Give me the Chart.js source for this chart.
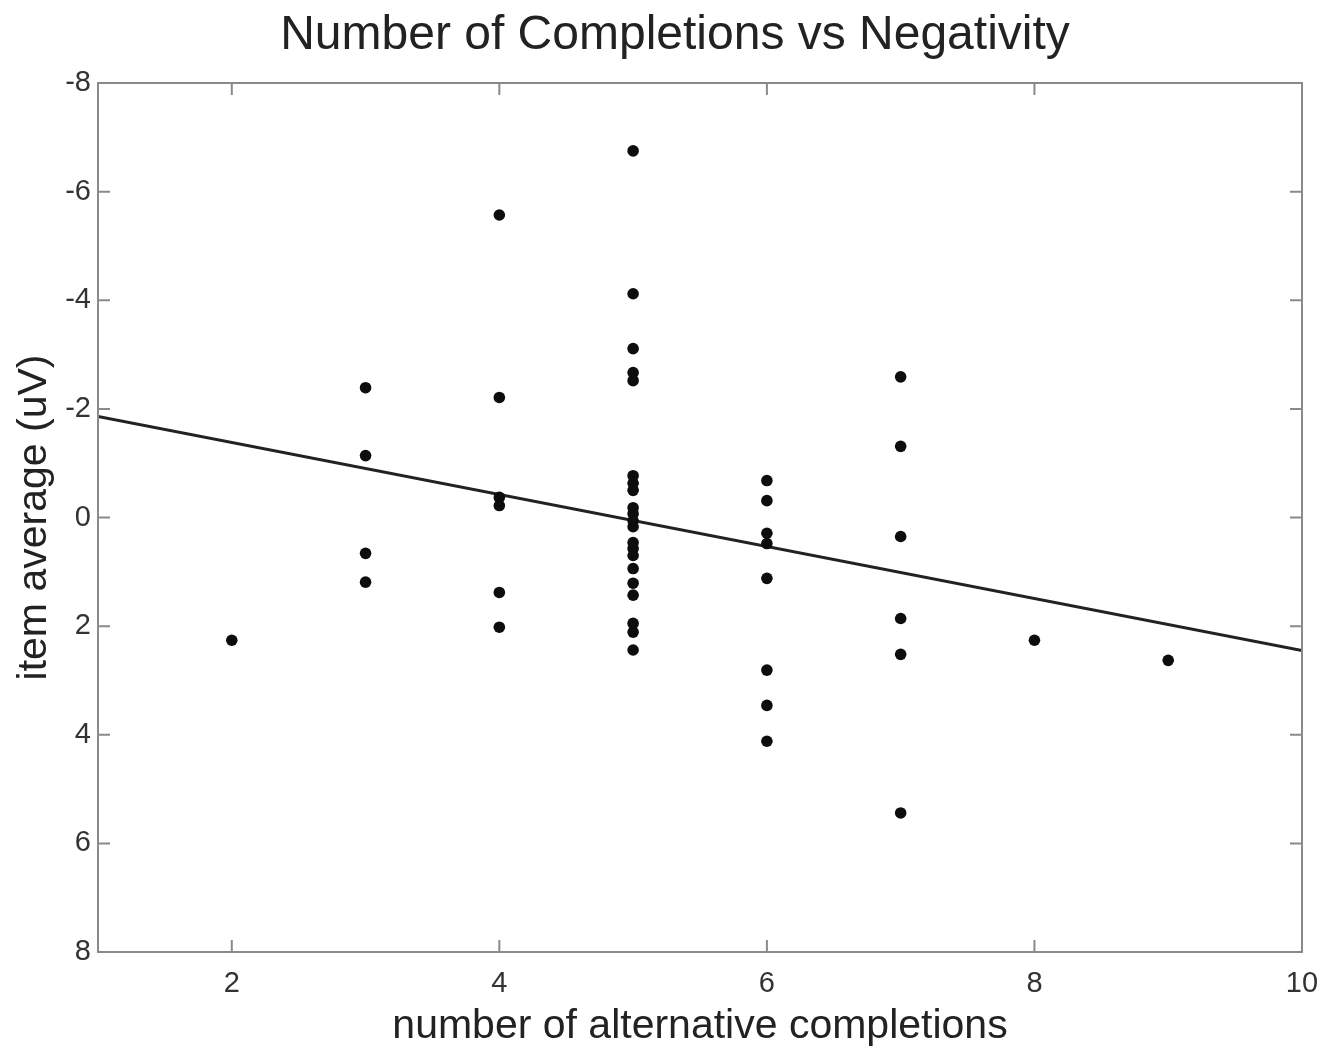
<!DOCTYPE html>
<html>
<head>
<meta charset="utf-8">
<script src="https://cdn.jsdelivr.net/npm/chart.js@4"></script>
<style>
  html, body { margin: 0; padding: 0; background: #fff; }
  #wrap { width: 1337px; height: 1051px; }
</style>
</head>
<body>
<div id="wrap"><canvas id="chart" width="1337" height="1051"></canvas></div>
<script>
// completions per item (x) and item average in uV (y)
const xVals = [
  2,
  3, 3, 3, 3,
  4, 4, 4, 4, 4, 4,
  5, 5, 5, 5, 5, 5, 5, 5, 5, 5, 5, 5, 5, 5, 5, 5, 5, 5, 5, 5, 5,
  6, 6, 6, 6, 6, 6, 6, 6,
  7, 7, 7, 7, 7, 7,
  8,
  9
];
const yVals = [
  2.26,
  -2.39, -1.14, 0.66, 1.19,
  -5.57, -2.21, -0.37, -0.22, 1.38, 2.02,
  -6.75, -4.12, -3.11, -2.67, -2.52, -0.77, -0.63, -0.50, -0.18, -0.07, 0.06, 0.17, 0.46, 0.57, 0.70, 0.94, 1.21, 1.43, 1.95, 2.11, 2.44,
  -0.68, -0.31, 0.29, 0.48, 1.12, 2.81, 3.46, 4.12,
  -2.59, -1.31, 0.35, 1.86, 2.52, 5.44,
  2.26,
  2.63
];

// fitted regression line (end points)
const fitX = [1, 10];
const fitY = [-1.86, 2.45];

const xTicks = [2, 4, 6, 8, 10];
const yTicks = [-8, -6, -4, -2, 0, 2, 4, 6, 8];

const titleText = 'Number of Completions vs Negativity';

const FONT = "'Liberation Sans', Arial, Helvetica, sans-serif";

// matlab style box with inward ticks, plus the title a bit right of centre
const boxPlugin = {
    id: 'boxPlugin',
    afterDraw(chart) {
        const ctx = chart.ctx;
        const a = chart.chartArea;
        const xs = chart.scales.x;
        const ys = chart.scales.y;
        const len = 12;
        ctx.save();
        ctx.strokeStyle = '#8a8a8a';
        ctx.lineWidth = 2;
        ctx.strokeRect(a.left, a.top, a.right - a.left, a.bottom - a.top);
        ctx.beginPath();
        xTicks.forEach(v => {
            const px = xs.getPixelForValue(v);
            ctx.moveTo(px, a.bottom); ctx.lineTo(px, a.bottom - len);
            ctx.moveTo(px, a.top); ctx.lineTo(px, a.top + len);
        });
        yTicks.forEach(v => {
            const py = ys.getPixelForValue(v);
            ctx.moveTo(a.left, py); ctx.lineTo(a.left + len, py);
            ctx.moveTo(a.right, py); ctx.lineTo(a.right - len, py);
        });
        ctx.stroke();

        ctx.fillStyle = '#222';
        ctx.font = '48px ' + FONT;
        ctx.textAlign = 'center';
        ctx.textBaseline = 'middle';
        ctx.fillText(titleText, 675, 36);
        ctx.restore();
    }
};

const points = xVals.map((x, i) => ({ x: x, y: yVals[i] }));
const fitLine = fitX.map((x, i) => ({ x: x, y: fitY[i] }));

const ctx = document.getElementById('chart').getContext('2d');
new Chart(ctx, {
    type: 'scatter',
    data: {
        datasets: [
            {
                label: 'items',
                data: points,
                pointRadius: 5.8,
                pointBackgroundColor: '#0d0d0d',
                pointBorderColor: '#0d0d0d',
                pointBorderWidth: 0
            },
            {
                type: 'line',
                label: 'fit',
                data: fitLine,
                borderColor: '#222',
                borderWidth: 3,
                pointRadius: 0,
                fill: false
            }
        ]
    },
    options: {
        responsive: false,
        animation: false,
        layout: {
            padding: { left: 0, right: 35, top: 83, bottom: 0 }
        },
        plugins: {
            legend: { display: false },
            tooltip: { enabled: false },
            title: { display: false }
        },
        scales: {
            x: {
                type: 'linear',
                min: 1,
                max: 10,
                afterBuildTicks: scale => { scale.ticks = xTicks.map(v => ({ value: v })); },
                afterFit: scale => { scale.height = 99; },
                grid: { display: false, drawTicks: false },
                border: { display: false },
                ticks: {
                    color: '#333',
                    padding: 15,
                    font: { family: FONT, size: 29 }
                },
                title: {
                    display: true,
                    text: 'number of alternative completions',
                    color: '#222',
                    font: { family: FONT, size: 41 },
                    padding: { top: 0, bottom: 0 }
                }
            },
            y: {
                type: 'linear',
                min: -8,
                max: 8,
                reverse: true,
                afterBuildTicks: scale => { scale.ticks = yTicks.map(v => ({ value: v })); },
                afterFit: scale => { scale.width = 98; },
                grid: { display: false, drawTicks: false },
                border: { display: false },
                ticks: {
                    color: '#333',
                    padding: 7,
                    font: { family: FONT, size: 29 }
                },
                title: {
                    display: true,
                    text: 'item average (uV)',
                    color: '#222',
                    font: { family: FONT, size: 41 },
                    padding: { top: 10, bottom: 0 }
                }
            }
        }
    },
    plugins: [boxPlugin]
});
</script>
</body>
</html>
